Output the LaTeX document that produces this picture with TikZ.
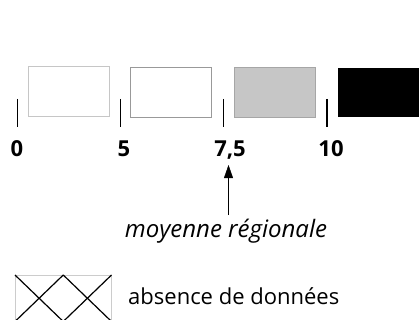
\documentclass[tikz,border=0pt]{standalone}
\usepackage{fontspec}
\setmainfont{Open Sans}
\usetikzlibrary{arrows.meta}

\tikzset{
	classe/.style={draw=#1, line width=0.6pt, minimum width=81pt, minimum height=50pt, inner sep=0pt, anchor=north west},
	borne/.style={font=\fontsize{22}{26}\selectfont\bfseries, inner sep=0pt, anchor=base},
	trait/.style={line width=1.8pt}
}

\begin{document}
\begin{tikzpicture}[x=1pt,y=-1pt]
		\useasboundingbox (0,0) rectangle (419,320);
		% classes
		\node[classe=gray!45] (c1) at (27.5,66.5) {};
		\node[classe=gray!80] (c2) at (130,67) {};
		\node[classe=gray!70, fill=gray!45] (c3) at (234,67) {};
		\node[classe=black, fill=black, minimum width=82pt, minimum height=48pt] (c4) at (337.5,68) {};
		
		% bornes
		\coordinate (t0) at (17.5,99);
		\coordinate (t5) at (120.5,99);
		\coordinate (t75) at (223.5,99);
		\coordinate (t10) at (327,99);
		\draw[trait] (t0) -- ++(0,28);
		\draw[trait] (t5) -- ++(0,28);
		\draw[trait] (t75) -- ++(0,28);
		\draw[trait] (t10) -- ++(0,28);
		\node[borne] (b0) at (17,157) {0};
		\node[borne] (b5) at (124,157) {5};
		\node[borne] (b75) at (230,157) {7,5};
		\node[borne] (b10) at (331,157) {10};
		
		% moyenne
		\node[font=\fontsize{24}{28}\selectfont\itshape, inner sep=0pt, anchor=base] (moy) at (226,237) {moyenne régionale};
		\coordinate (fleche) at (228.5,165);
		\draw[-{Triangle[length=13pt,width=9pt]}, line width=0.5pt] (fleche |- 0,215) -- (fleche);
		
		% absence de donnees
		\node[draw=gray!40, line width=0.5pt, minimum width=96pt, minimum height=46pt, inner sep=0pt, anchor=north west] (nd) at (15,275) {};
		\draw[line width=1.2pt] (nd.north west) -- (nd.south) (nd.north) -- (nd.south west)
			(nd.north) -- (nd.south east) (nd.north east) -- (nd.south);
		\node[font=\fontsize{22}{26}\selectfont, inner sep=0pt, anchor=base west] (txt) at (128,304) {absence de données};
\end{tikzpicture}
\end{document}
